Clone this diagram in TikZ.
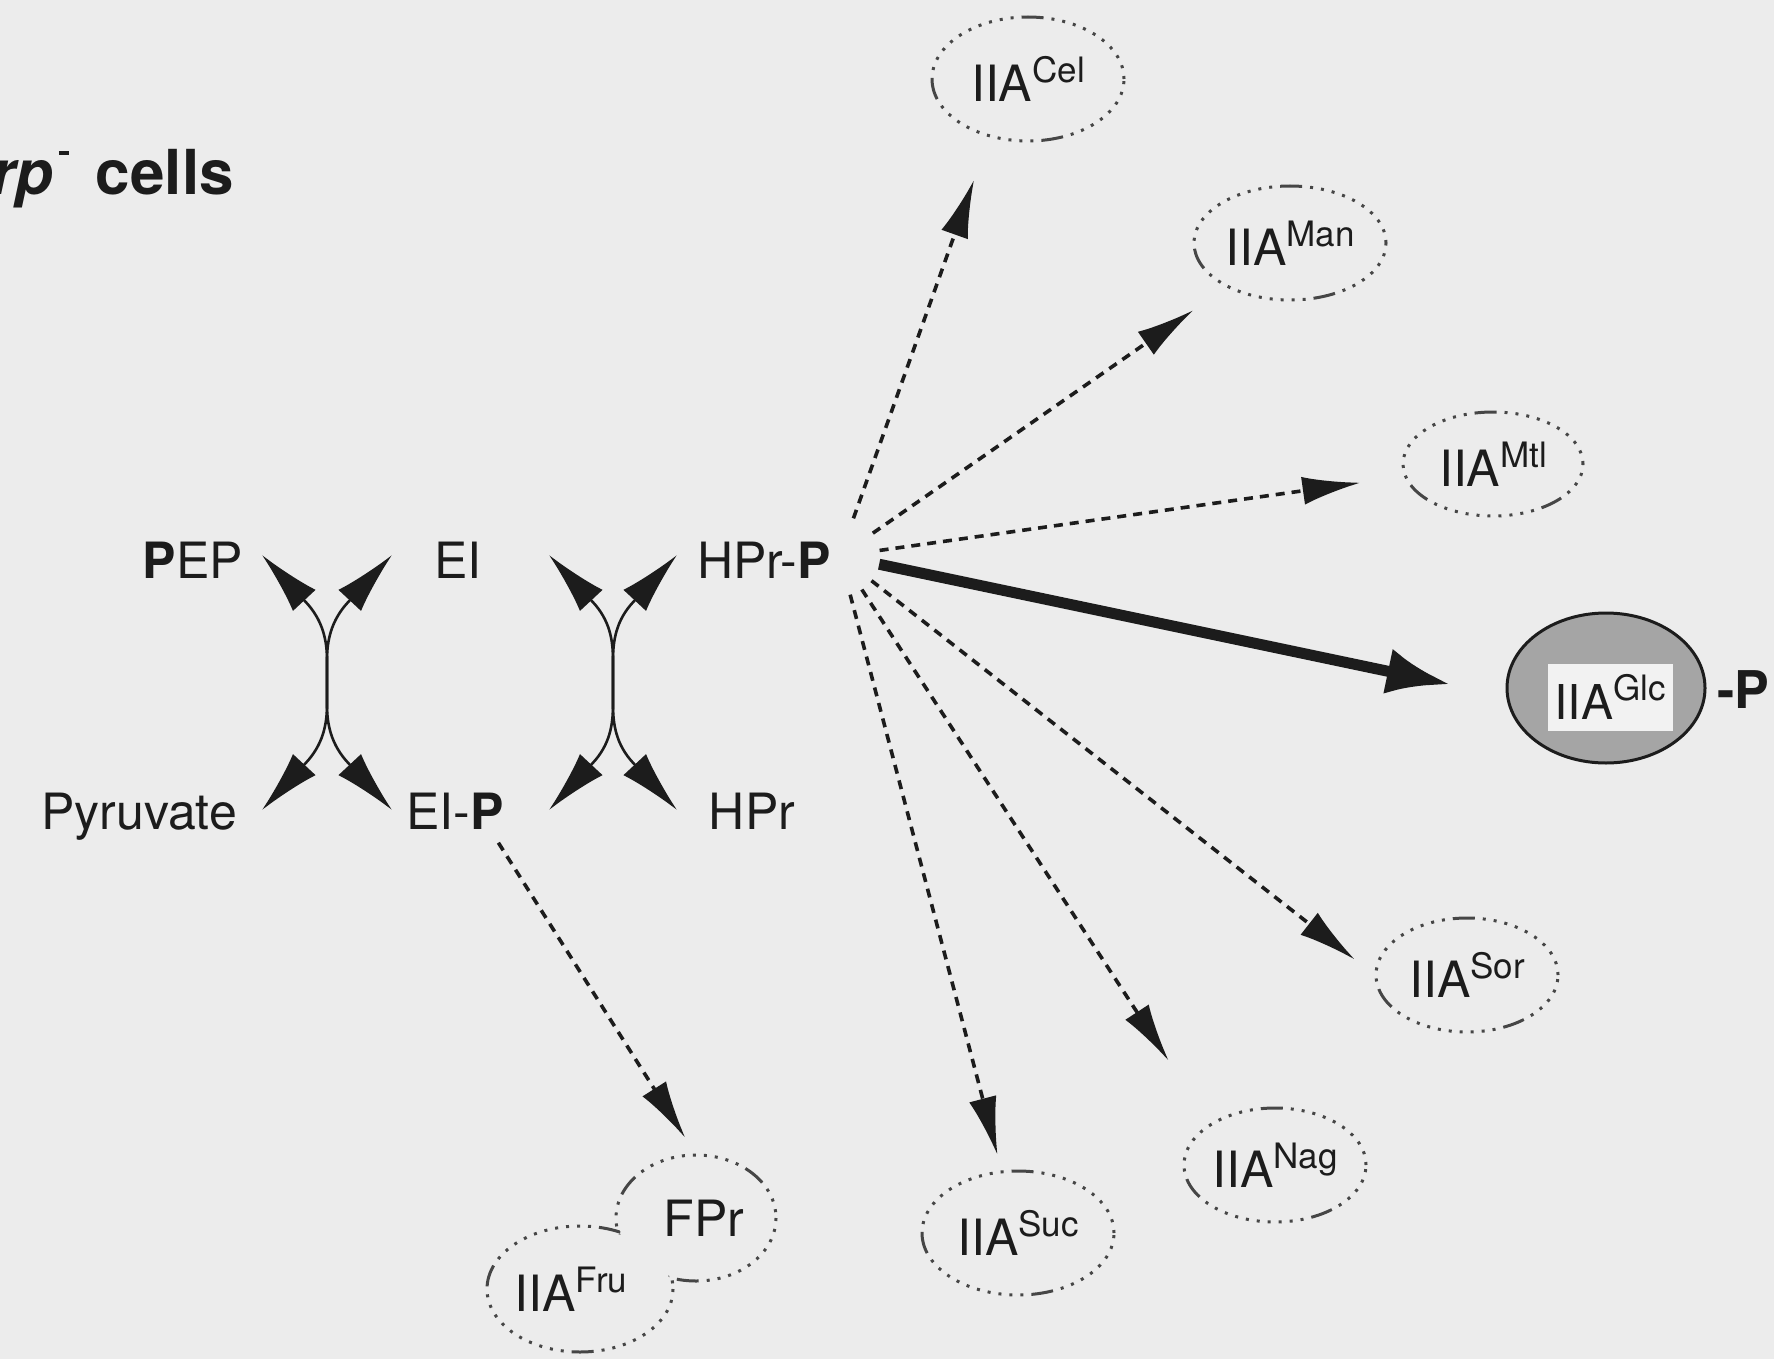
\documentclass[tikz,border=0pt]{standalone}
\usepackage{fontspec}
\setmainfont{TeX Gyre Heros}
\usetikzlibrary{arrows.meta,shapes.geometric}

\definecolor{paper}{RGB}{236,236,236}
\definecolor{ink}{RGB}{28,28,28}
\definecolor{ringink}{RGB}{70,70,70}
\definecolor{glcfill}{RGB}{165,165,165}
\definecolor{glcbox}{RGB}{242,242,242}

% superscript used in the IIA names
\newcommand\sprs[1]{\raisebox{19pt}{\fontsize{35}{35}\selectfont #1}}

\begin{document}
\begin{tikzpicture}[x=1pt,y=-1pt,
  lab/.style={font=\fontsize{50}{60}\selectfont, inner sep=0pt, text=ink, anchor=base},
  ringline/.style={draw=ringink, line width=3pt,
                   dash pattern=on 3pt off 8pt on 3pt off 8pt on 3pt off 8pt on 3pt off 8pt
                                on 3pt off 8pt on 3pt off 8pt on 3pt off 8pt on 3pt off 8pt
                                on 3pt off 8pt on 3pt off 8pt on 22pt off 8pt},
  enz/.style={ellipse, ringline, inner sep=0pt, font=\fontsize{50}{60}\selectfont, text=ink},
  enzbare/.style={ellipse, inner sep=0pt, font=\fontsize{50}{60}\selectfont, text=ink},
  flip/.style={draw=ink, line width=2.6pt,
               {Latex[length=62pt,width=31pt]}-{Latex[length=62pt,width=31pt]}},
  dasharrow/.style={draw=ink, line width=3.6pt, dash pattern=on 9pt off 7pt,
                    -{Latex[length=58pt,width=28pt]}, shorten <=40pt},
  bigarrow/.style={draw=ink, line width=11pt, -{Latex[length=64pt,width=46pt]},
                   shorten <=40pt}
]
\fill[paper] (0,0) rectangle (1774,1359);
\useasboundingbox (0,0) rectangle (1774,1359);

% heading
\node[anchor=base west, inner sep=0pt, text=ink, font=\fontsize{62}{70}\selectfont\bfseries]
  (title) at (-9,195) {{\itshape rp}\hspace{6pt}\rule[40pt]{10pt}{4pt}\hspace{27pt}cells};

% reactants and products
\node[lab] (pep) at (193,578) {\textbf{P}EP};
\node[lab] (ei)  at (458,578) {EI};
\node[lab] (hp)  at (764,578) {HPr-\textbf{P}};
\node[lab] (pyr) at (139,829) {Pyruvate};
\node[lab] (eip) at (455,829) {EI-\textbf{P}};
\node[lab] (hpr) at (752,829) {HPr};

% tips of the exchange arcs
\coordinate (a1) at (262,555);
\coordinate (a2) at (392,555);
\coordinate (a3) at (262,810);
\coordinate (a4) at (392,810);
\coordinate (b1) at (549,555);
\coordinate (b2) at (677,555);
\coordinate (b3) at (549,810);
\coordinate (b4) at (677,810);

% PEP + EI <-> Pyruvate + EI-P (the two arcs touch along the middle)
\draw[flip] (a1) -- (305.6,601.8) .. controls (322.7,620.1) and (327,640) .. (327,660) -- (327,705)
            .. controls (327,725) and (322.7,744.9) .. (305.6,763.2) -- (a3);
\draw[flip] (a2) -- (348.4,601.8) .. controls (331.3,620.1) and (327,640) .. (327,660) -- (327,705)
            .. controls (327,725) and (331.3,744.9) .. (348.4,763.2) -- (a4);
% EI-P + HPr <-> EI + HPr-P
\draw[flip] (b1) -- (592.6,601.8) .. controls (609.7,620.1) and (613,640) .. (613,660) -- (613,705)
            .. controls (613,725) and (609.7,744.9) .. (592.6,763.2) -- (b3);
\draw[flip] (b2) -- (633.4,601.8) .. controls (616.3,620.1) and (613,640) .. (613,660) -- (613,705)
            .. controls (613,725) and (616.3,744.9) .. (633.4,763.2) -- (b4);

% IIA proteins
\node[enz, minimum width=192pt, minimum height=124pt] (cel) at (1028,79)   {IIA\sprs{Cel}};
\node[enz, minimum width=192pt, minimum height=114pt] (man) at (1290,243)  {IIA\sprs{Man}};
\node[enz, minimum width=180pt, minimum height=104pt] (mtl) at (1493,464)  {IIA\sprs{Mtl}};
\node[enz, minimum width=182pt, minimum height=114pt] (sor) at (1467,975)  {IIA\sprs{Sor}};
\node[enz, minimum width=182pt, minimum height=114pt] (nag) at (1275,1165) {IIA\sprs{Nag}};
\node[enz, minimum width=192pt, minimum height=124pt] (suc) at (1018,1233) {IIA\sprs{Suc}};

% phosphorylated IIA-Glc
\node[ellipse, draw=ink, line width=3pt, fill=glcfill,
      minimum width=198pt, minimum height=150pt] (glc) at (1606,688) {};
\node[fill=glcbox, inner sep=0pt, minimum width=125pt, minimum height=67pt,
      font=\fontsize{48}{58}\selectfont, text=ink] (glct) at (1610,697) {IIA\sprs{Glc}};
\node[anchor=west, inner sep=0pt, font=\fontsize{52}{60}\selectfont\bfseries, text=ink]
  (glcp) at (1717,690) {-P};

% FPr and IIA-Fru share one outline
\draw[ringline] (580,1289) ellipse [x radius=93, y radius=63];
\draw[ringline] (696,1218) ellipse [x radius=80, y radius=63];
\fill[paper] (580,1289) ellipse [x radius=90.5, y radius=60.5];
\fill[paper] (696,1218) ellipse [x radius=77.5, y radius=60.5];
\node[enzbare, minimum width=160pt, minimum height=126pt] (fpr) at (696,1218) {\hspace*{16pt}FPr};
\node[enzbare, minimum width=186pt, minimum height=126pt] (fru) at (580,1289) {IIA\sprs{Fru}\hspace*{18pt}};

% phosphoryl transfer from HPr-P
\coordinate (hub) at (840,556);
\draw[dasharrow, shorten >=107pt] (hub) -- ([xshift=-18pt]cel.center);
\draw[dasharrow, shorten >=40pt]  (hub) -- (man);
\draw[dasharrow, shorten >=44pt]  (hub) -- (mtl);
\draw[bigarrow,  shorten >=56pt]  (hub) -- ([yshift=-8pt]glc.west);
\draw[dasharrow, shorten >=25pt]  (hub) -- (sor.west);
\draw[dasharrow, shorten >=75pt]  (hub) -- (nag.north west);
\draw[dasharrow, shorten >=16pt]  (hub) -- (suc);
\draw[dasharrow, shorten <=16pt, shorten >=20pt] ([xshift=-14pt]eip.south east) -- (fpr.north);
\end{tikzpicture}
\end{document}
